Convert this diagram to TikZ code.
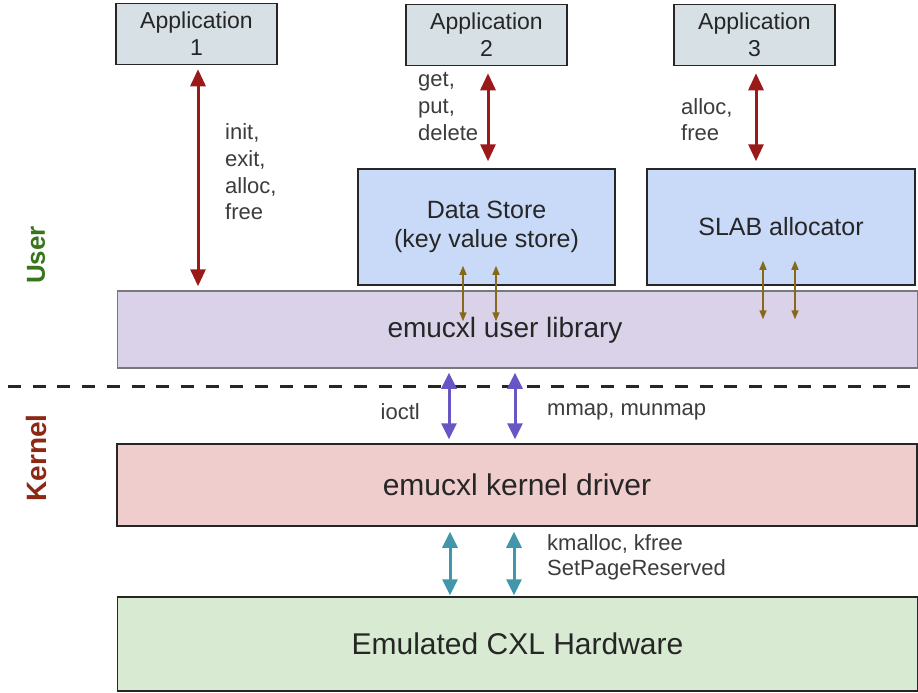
\documentclass[tikz,border=0pt]{standalone}
\usepackage{fontspec}
\setmainfont{Liberation Sans}
\usetikzlibrary{arrows.meta,calc}

\definecolor{appfill}{RGB}{214,224,229}
\definecolor{bluefill}{RGB}{201,218,248}
\definecolor{libfill}{RGB}{217,210,233}
\definecolor{libdraw}{RGB}{120,120,125}
\definecolor{drvfill}{RGB}{240,205,205}
\definecolor{hwfill}{RGB}{217,234,211}
\definecolor{redarr}{RGB}{155,25,25}
\definecolor{brownarr}{RGB}{135,105,25}
\definecolor{purplearr}{RGB}{105,85,195}
\definecolor{cyanarr}{RGB}{65,150,172}
\definecolor{usergreen}{RGB}{56,118,29}
\definecolor{kernelred}{RGB}{140,40,20}
\definecolor{labelgrey}{RGB}{60,60,60}

\tikzset{
  appbox/.style={draw=black!85, line width=1.5pt, fill=appfill, minimum width=161pt,
    minimum height=61pt, inner sep=0pt, align=center, text=black!85,
    font=\fontsize{23}{27}\selectfont},
  midbox/.style={draw=black!85, line width=1.5pt, fill=bluefill, minimum height=116pt,
    inner sep=0pt, align=center, text=black!85, font=\fontsize{25}{29}\selectfont},
  layerbox/.style={draw=black!85, line width=1.5pt, minimum width=800pt, inner sep=0pt,
    text=black!85},
  calllabel/.style={anchor=west, align=left, inner sep=0pt, text=labelgrey,
    font=\fontsize{22}{26.6}\selectfont},
  sidelabel/.style={rotate=90, inner sep=0pt},
  redcall/.style={draw=redarr, line width=3pt, {Triangle[width=15pt,length=17pt]}-{Triangle[width=15pt,length=17pt]}},
  browncall/.style={draw=brownarr, line width=1.5pt, {Triangle[width=7pt,length=9pt]}-{Triangle[width=7pt,length=9pt]}},
  purplecall/.style={draw=purplearr, line width=3pt, {Triangle[width=15pt,length=16pt]}-{Triangle[width=15pt,length=16pt]}},
  cyancall/.style={draw=cyanarr, line width=3pt, {Triangle[width=15pt,length=16pt]}-{Triangle[width=15pt,length=16pt]}},
}

\begin{document}
\begin{tikzpicture}[x=1pt, y=-1pt]
\useasboundingbox[fill=white] (0,0) rectangle (918,693);

% applications
\node[appbox] (app1) at (196.5,34) {Application\\1};
\node[appbox] (app2) at (486.5,35) {Application\\2};
\node[appbox] (app3) at (754.5,35) {Application\\3};

% user-space services
\node[midbox, minimum width=257pt] (store) at (486.5,227)
  {Data Store\\(key value store)};
\node[midbox, minimum width=268pt] (slab) at (781,227) {SLAB allocator};

% layers
\node[layerbox, draw=libdraw, fill=libfill, minimum height=77pt] (lib) at (517.5,329.5) {};
\node[text=black!85, inner sep=0pt, font=\fontsize{28}{30}\selectfont] (libtext) at (505,330)
  {emucxl user library};
\node[layerbox, fill=drvfill, minimum height=82pt] (drv) at (517,485)
  {\fontsize{30}{32}\selectfont emucxl kernel driver};
\node[layerbox, fill=hwfill, minimum height=94pt] (hw) at (517.5,644)
  {\fontsize{30}{32}\selectfont Emulated CXL Hardware};

% user / kernel boundary
\coordinate (sepL) at (8,386);
\coordinate (sepR) at (918,386);
\draw[line width=3pt, black!85, dash pattern=on 13pt off 11.7pt] (sepL) -- (sepR);
\node[sidelabel, text=usergreen, font=\fontsize{26}{28}\selectfont\bfseries] (userlbl) at (36,255) {User};
\node[sidelabel, text=kernelred, font=\fontsize{28}{30}\selectfont\bfseries] (kernlbl) at (36,458) {Kernel};

% application calls
\draw[redcall, shorten <=4pt, shorten >=4pt] ([xshift=1.5pt]app1.south) -- ([xshift=1.5pt]app1.south |- lib.north);
\draw[redcall, shorten <=7pt, shorten >=7pt] ([xshift=1.5pt]app2.south) -- ([xshift=1.5pt]app2.south |- store.north);
\draw[redcall, shorten <=7pt, shorten >=7pt] ([xshift=1.5pt]app3.south) -- ([xshift=1.5pt]app3.south |- slab.north);

\node[calllabel] (l1) at (225,172) {init,\\exit,\\alloc,\\free};
\node[calllabel] (l2) at (418,106.5) {get,\\put,\\delete};
\node[calllabel] (l3) at (681,119.5) {alloc,\\free};

% services to library
\coordinate (s1) at ([xshift=-23.5pt]store.south);
\coordinate (s2) at ([xshift=9.5pt]store.south);
\coordinate (b1) at ([xshift=-18pt]slab.south);
\coordinate (b2) at ([xshift=14pt]slab.south);
\draw[browncall] ($(s1)+(0,-20)$) -- ($(s1 |- lib.north)+(0,31)$);
\draw[browncall] ($(s2)+(0,-20)$) -- ($(s2 |- lib.north)+(0,31)$);
\draw[browncall] ($(b1)+(0,-25)$) -- ($(b1 |- lib.north)+(0,29)$);
\draw[browncall] ($(b2)+(0,-25)$) -- ($(b2 |- lib.north)+(0,29)$);

% library to kernel driver
\coordinate (p1) at (449,368);
\coordinate (p2) at (515,368);
\draw[purplecall, shorten <=4pt, shorten >=4pt] (p1 |- lib.south) -- (p1 |- drv.north);
\draw[purplecall, shorten <=4pt, shorten >=4pt] (p2 |- lib.south) -- (p2 |- drv.north);
\node[calllabel, anchor=east] (l4) at (420,412) {ioctl};
\node[calllabel] (l5) at (547,412) {mmap, munmap};

% kernel driver to hardware
\coordinate (c1) at (450,560);
\coordinate (c2) at (514,560);
\draw[cyancall, shorten <=5pt, shorten >=1pt] (c1 |- drv.south) -- (c1 |- hw.north);
\draw[cyancall, shorten <=5pt, shorten >=1pt] (c2 |- drv.south) -- (c2 |- hw.north);
\node[calllabel, font=\fontsize{22}{25}\selectfont] (l6) at (547,557.5) {kmalloc, kfree\\SetPageReserved};
\end{tikzpicture}
\end{document}
